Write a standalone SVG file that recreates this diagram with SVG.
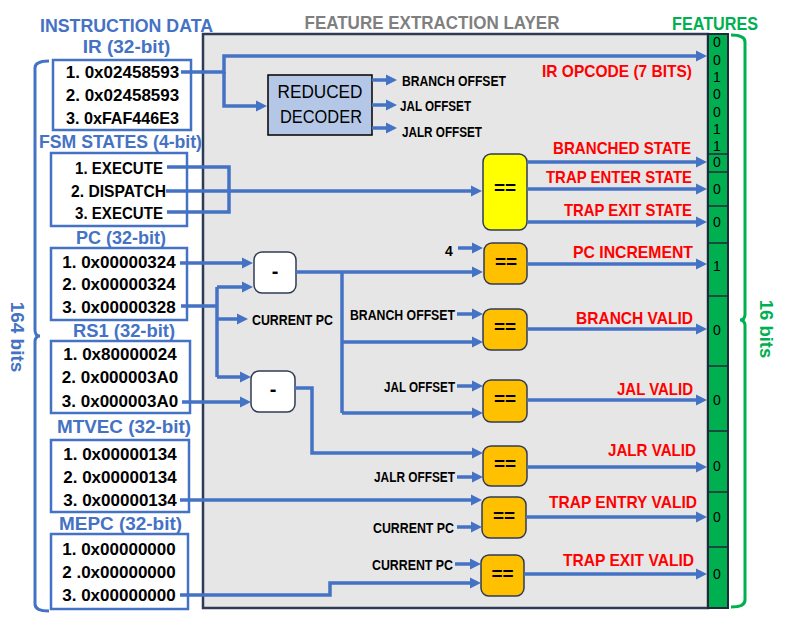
<svg xmlns="http://www.w3.org/2000/svg" width="788" height="629" viewBox="0 0 788 629">
<defs>
<style>
text{font-family:"Liberation Sans",Arial,sans-serif}
.hdr{font-weight:bold;font-size:19px;fill:#4472C4;text-anchor:middle}
.dat{font-weight:bold;font-size:17px;fill:#000;text-anchor:middle}
.lbl{font-weight:bold;font-size:14px;fill:#000}
.red{font-weight:bold;font-size:17px;fill:#FF0000;text-anchor:end}
.bit{font-size:14px;fill:#000;text-anchor:middle}
.op{font-weight:bold;font-size:19px;fill:#000;text-anchor:middle}
.box{fill:#fff;stroke:#4472C4;stroke-width:2.5}
.cmp{fill:#FFC000;stroke:#2F3B56;stroke-width:1.5}
.sub{fill:#fff;stroke:#2F3B56;stroke-width:1.5}
.wire{fill:none;stroke:#4472C4;stroke-width:3.5}
.arr{marker-end:url(#ah)}
.sep{stroke:#1F2A3A;stroke-width:1.5}
</style>
<marker id="ah" markerUnits="userSpaceOnUse" markerWidth="12" markerHeight="12" refX="2" refY="6" orient="auto">
<path d="M0,0.5 L11,6 L0,11.5 z" fill="#4472C4"/>
</marker>
</defs>
<rect width="788" height="629" fill="#fff"/>

<g id="feature-layer">
<rect x="203" y="34" width="505" height="574" fill="#E7E6E6" stroke="#2F3B56" stroke-width="2.5"/>
<text x="432" y="29" style="font-weight:bold;font-size:18px;fill:#7F7F7F;text-anchor:middle" textLength="255" lengthAdjust="spacingAndGlyphs">FEATURE EXTRACTION LAYER</text>
</g>

<g id="instruction-data">
<text class="hdr" x="126.5" y="32" textLength="173" lengthAdjust="spacingAndGlyphs">INSTRUCTION DATA</text>
<path d="M49,61 Q35,61 35,68 L35,330 Q35,336 40,336 Q35,336 35,342 L35,604 Q35,611 49,611" fill="none" stroke="#4472C4" stroke-width="3"/>
<text class="hdr" transform="translate(11,337) rotate(90)">164 bits</text>
</g>

<g id="ir">
<text class="hdr" x="126.5" y="53">IR (32-bit)</text>
<rect class="box" x="53" y="60" width="138" height="70"/>
<text class="dat" x="122.5" y="78">1. 0x02458593</text>
<text class="dat" x="122.5" y="101">2. 0x02458593</text>
<text class="dat" x="122.5" y="124" textLength="113" lengthAdjust="spacingAndGlyphs">3. 0xFAF446E3</text>
</g>

<g id="fsm">
<text class="hdr" x="120.5" y="148" textLength="163" lengthAdjust="spacingAndGlyphs">FSM STATES (4-bit)</text>
<rect class="box" x="51" y="153" width="136" height="73"/>
<text class="dat" x="119" y="174" textLength="88" lengthAdjust="spacingAndGlyphs">1. EXECUTE</text>
<text class="dat" x="118.5" y="197" textLength="95" lengthAdjust="spacingAndGlyphs">2. DISPATCH</text>
<text class="dat" x="119" y="219" textLength="88" lengthAdjust="spacingAndGlyphs">3. EXECUTE</text>
</g>

<g id="pc">
<text class="hdr" x="121" y="244" textLength="90" lengthAdjust="spacingAndGlyphs">PC (32-bit)</text>
<rect class="box" x="51" y="248" width="136" height="72"/>
<text class="dat" x="119" y="268">1. 0x00000324</text>
<text class="dat" x="119" y="290">2. 0x00000324</text>
<text class="dat" x="119" y="313">3. 0x00000328</text>
</g>

<g id="rs1">
<text class="hdr" x="124" y="337" textLength="102" lengthAdjust="spacingAndGlyphs">RS1 (32-bit)</text>
<rect class="box" x="51" y="341" width="139" height="72"/>
<text class="dat" x="120" y="360">1. 0x80000024</text>
<text class="dat" x="120" y="383">2. 0x000003A0</text>
<text class="dat" x="120" y="407">3. 0x000003A0</text>
</g>

<g id="mtvec">
<text class="hdr" x="124" y="433" textLength="134" lengthAdjust="spacingAndGlyphs">MTVEC (32-bit)</text>
<rect class="box" x="51" y="440" width="138" height="72"/>
<text class="dat" x="120" y="460">1. 0x00000134</text>
<text class="dat" x="120" y="483">2. 0x00000134</text>
<text class="dat" x="120" y="506">3. 0x00000134</text>
</g>

<g id="mepc">
<text class="hdr" x="120.5" y="530" textLength="123" lengthAdjust="spacingAndGlyphs">MEPC (32-bit)</text>
<rect class="box" x="51" y="534" width="137" height="75"/>
<text class="dat" x="119" y="555">1. 0x00000000</text>
<text class="dat" x="119" y="578">2 .0x00000000</text>
<text class="dat" x="119" y="601">3. 0x00000000</text>
</g>

<g id="decoder">
<rect x="268" y="75" width="104" height="60" fill="#B4C7E7" stroke="#000" stroke-width="1.5"/>
<text x="320" y="98" style="font-size:17.5px;text-anchor:middle" textLength="85" lengthAdjust="spacingAndGlyphs">REDUCED</text>
<text x="321" y="123" style="font-size:17.5px;text-anchor:middle" textLength="82" lengthAdjust="spacingAndGlyphs">DECODER</text>
<text class="lbl" x="402" y="86" textLength="104" lengthAdjust="spacingAndGlyphs">BRANCH OFFSET</text>
<text class="lbl" x="400" y="111" textLength="71" lengthAdjust="spacingAndGlyphs">JAL OFFSET</text>
<text class="lbl" x="402" y="137" textLength="80" lengthAdjust="spacingAndGlyphs">JALR OFFSET</text>
</g>

<g id="state-compare">
<rect x="483" y="154" width="44" height="76" rx="8" fill="#FFFF00" stroke="#2F3B56" stroke-width="1.5"/>
<text class="op" x="505" y="194">==</text>
<text class="red" x="691" y="154" textLength="138" lengthAdjust="spacingAndGlyphs">BRANCHED STATE</text>
<text class="red" x="692" y="183" textLength="146" lengthAdjust="spacingAndGlyphs">TRAP ENTER STATE</text>
<text class="red" x="692" y="216" textLength="128" lengthAdjust="spacingAndGlyphs">TRAP EXIT STATE</text>
</g>

<g id="sub-pc">
<rect class="sub" x="254" y="252" width="42" height="41" rx="8"/>
<text class="op" x="275" y="278" style="font-size:20px">-</text>
</g>
<g id="sub-rs1">
<rect class="sub" x="251" y="371" width="44" height="41" rx="8"/>
<text class="op" x="273" y="396" style="font-size:20px">-</text>
</g>
<text class="lbl" x="252" y="325" textLength="81" lengthAdjust="spacingAndGlyphs">CURRENT PC</text>

<g id="cmp-pc-inc">
<rect class="cmp" x="484" y="243" width="43" height="41" rx="8"/>
<text class="op" x="506" y="268">==</text>
<text class="lbl" x="445" y="256">4</text>
<text class="red" x="693" y="258" textLength="120" lengthAdjust="spacingAndGlyphs">PC INCREMENT</text>
</g>
<g id="cmp-branch">
<rect class="cmp" x="483" y="309" width="44" height="41" rx="8"/>
<text class="op" x="505" y="333">==</text>
<text class="lbl" x="350" y="320" textLength="105" lengthAdjust="spacingAndGlyphs">BRANCH OFFSET</text>
<text class="red" x="693" y="324" textLength="117" lengthAdjust="spacingAndGlyphs">BRANCH VALID</text>
</g>
<g id="cmp-jal">
<rect class="cmp" x="483" y="380" width="44" height="42" rx="8"/>
<text class="op" x="505" y="405">==</text>
<text class="lbl" x="384" y="392" textLength="71" lengthAdjust="spacingAndGlyphs">JAL OFFSET</text>
<text class="red" x="693" y="395" textLength="76" lengthAdjust="spacingAndGlyphs">JAL VALID</text>
</g>
<g id="cmp-jalr">
<rect class="cmp" x="483" y="446" width="44" height="40" rx="8"/>
<text class="op" x="505" y="470">==</text>
<text class="lbl" x="374" y="482" textLength="81" lengthAdjust="spacingAndGlyphs">JALR OFFSET</text>
<text class="red" x="696" y="456" textLength="88" lengthAdjust="spacingAndGlyphs">JALR VALID</text>
</g>
<g id="cmp-trap-entry">
<rect class="cmp" x="482" y="497" width="44" height="41" rx="8"/>
<text class="op" x="504" y="522">==</text>
<text class="lbl" x="373" y="533" textLength="81" lengthAdjust="spacingAndGlyphs">CURRENT PC</text>
<text class="red" x="697" y="508" textLength="148" lengthAdjust="spacingAndGlyphs">TRAP ENTRY VALID</text>
</g>
<g id="cmp-trap-exit">
<rect class="cmp" x="481" y="555" width="43" height="41" rx="8"/>
<text class="op" x="502.5" y="580">==</text>
<text class="lbl" x="372" y="570" textLength="81" lengthAdjust="spacingAndGlyphs">CURRENT PC</text>
<text class="red" x="694" y="566" textLength="131" lengthAdjust="spacingAndGlyphs">TRAP EXIT VALID</text>
</g>

<g id="features">
<text x="715" y="30" style="font-weight:bold;font-size:18px;fill:#00B050;text-anchor:middle" textLength="86" lengthAdjust="spacingAndGlyphs">FEATURES</text>
<rect x="708" y="34" width="20" height="574" fill="#00B050" stroke="#1F2A3A" stroke-width="2"/>
<line class="sep" x1="708" y1="154" x2="728" y2="154"/>
<line class="sep" x1="708" y1="172" x2="728" y2="172"/>
<line class="sep" x1="708" y1="206" x2="728" y2="206"/>
<line class="sep" x1="708" y1="243" x2="728" y2="243"/>
<line class="sep" x1="708" y1="296" x2="728" y2="296"/>
<line class="sep" x1="708" y1="366" x2="728" y2="366"/>
<line class="sep" x1="708" y1="431" x2="728" y2="431"/>
<line class="sep" x1="708" y1="492" x2="728" y2="492"/>
<line class="sep" x1="708" y1="547" x2="728" y2="547"/>
<text class="bit" x="717" y="47">0</text>
<text class="bit" x="717" y="64.5">0</text>
<text class="bit" x="717" y="82">1</text>
<text class="bit" x="717" y="99">0</text>
<text class="bit" x="717" y="116.5">0</text>
<text class="bit" x="717" y="133.5">1</text>
<text class="bit" x="717" y="151">1</text>
<text class="bit" x="717" y="167">0</text>
<text class="bit" x="717" y="194">0</text>
<text class="bit" x="717" y="227">0</text>
<text class="bit" x="717" y="271">1</text>
<text class="bit" x="717" y="335">0</text>
<text class="bit" x="717" y="405">0</text>
<text class="bit" x="717" y="471">0</text>
<text class="bit" x="717" y="522">0</text>
<text class="bit" x="717" y="579">0</text>
<path d="M731,35 Q745,35 745,42 L745,314 Q745,320 740,320 Q745,320 745,326 L745,600 Q745,607 731,607" fill="none" stroke="#00B050" stroke-width="3"/>
<text transform="translate(760,329) rotate(90)" style="font-weight:bold;font-size:18.5px;fill:#00B050;text-anchor:middle">16 bits</text>
<text class="red" x="692" y="77" textLength="150" lengthAdjust="spacingAndGlyphs">IR OPCODE (7 BITS)</text>
</g>

<g id="connectors">
<path class="wire arr" d="M181,72 H224 V56 H698"/>
<path class="wire arr" d="M224,72 V106 H258"/>
<path class="wire arr" d="M372,80 H388"/>
<path class="wire arr" d="M372,105 H388"/>
<path class="wire arr" d="M372,128 H388"/>
<path class="wire" d="M167,167 H229 V212 H167"/>
<path class="wire arr" d="M166,191 H473"/>
<path class="wire arr" d="M527,162 H698"/>
<path class="wire arr" d="M527,189 H698"/>
<path class="wire arr" d="M527,222 H698"/>
<path class="wire arr" d="M180,263 H244"/>
<path class="wire" d="M181,306 H217 M217,287 V377"/>
<path class="wire arr" d="M217,287 H244"/>
<path class="wire arr" d="M217,319 H239"/>
<path class="wire arr" d="M217,377 H242"/>
<path class="wire arr" d="M182,402 H242"/>
<path class="wire arr" d="M296,272 H474"/>
<path class="wire" d="M342,272 V413"/>
<path class="wire arr" d="M342,342 H474"/>
<path class="wire arr" d="M342,413 H474"/>
<path class="wire arr" d="M458,248 H474"/>
<path class="wire arr" d="M457,314 H474"/>
<path class="wire arr" d="M457,386 H474"/>
<path class="wire arr" d="M295,388 H312 V453 H474"/>
<path class="wire arr" d="M457,477 H474"/>
<path class="wire arr" d="M180,500 H473"/>
<path class="wire arr" d="M457,527 H473"/>
<path class="wire arr" d="M455,564 H472"/>
<path class="wire arr" d="M180,595 H330 V583 H472"/>
<path class="wire arr" d="M527,264 H698"/>
<path class="wire arr" d="M527,329 H698"/>
<path class="wire arr" d="M527,400 H698"/>
<path class="wire arr" d="M527,467 H698"/>
<path class="wire arr" d="M526,517 H698"/>
<path class="wire arr" d="M524,574 H698"/>
</g>
</svg>
